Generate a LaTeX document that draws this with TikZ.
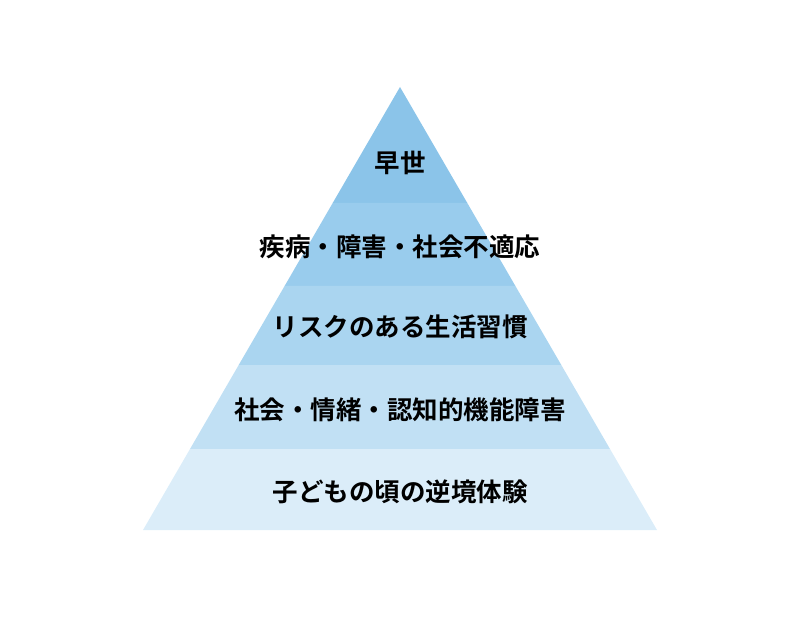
\documentclass[tikz,border=0pt]{standalone}
\usepackage{fontspec}
\newfontfamily\jpfont{Noto Sans CJK JP}[BoldFont={* Bold}]
\definecolor{lay1}{RGB}{139,196,233}
\definecolor{lay2}{RGB}{153,204,237}
\definecolor{lay3}{RGB}{170,213,240}
\definecolor{lay4}{RGB}{193,224,244}
\definecolor{lay5}{RGB}{219,237,249}
\tikzset{
  layer/.style={draw=none},
  lbl/.style={font=\jpfont\bfseries\fontsize{25.5}{28}\selectfont, text=black, inner sep=0pt, anchor=center}
}
\begin{document}
\begin{tikzpicture}[x=1pt,y=-1pt]
\useasboundingbox (0,0) rectangle (800,617);
\def\ax{400}\def\ay{87}
% x at given y: left = 400 - 257*(y-87)/443
\coordinate (apex) at (400,87);
\coordinate (l1) at (332.7,203); \coordinate (r1) at (467.3,203);
\coordinate (l2) at (284.6,286); \coordinate (r2) at (515.4,286);
\coordinate (l3) at (238.7,365); \coordinate (r3) at (561.3,365);
\coordinate (l4) at (190,449);   \coordinate (r4) at (610,449);
\coordinate (l5) at (143,530);   \coordinate (r5) at (657,530);
\fill[layer, lay1] (apex) -- (r1) -- (l1) -- cycle;
\fill[layer, lay2] (l1) -- (r1) -- (r2) -- (l2) -- cycle;
\fill[layer, lay3] (l2) -- (r2) -- (r3) -- (l3) -- cycle;
\fill[layer, lay4] (l3) -- (r3) -- (r4) -- (l4) -- cycle;
\fill[layer, lay5] (l4) -- (r4) -- (r5) -- (l5) -- cycle;
\node[lbl] (t1) at (400,163) {早世};
\node[lbl] (t2) at (400,247) {疾病・障害・社会不適応};
\node[lbl] (t3) at (400,327) {リスクのある生活習慣};
\node[lbl] (t4) at (400,410) {社会・情緒・認知的機能障害};
\node[lbl] (t5) at (400,492) {子どもの頃の逆境体験};
\end{tikzpicture}
\end{document}
